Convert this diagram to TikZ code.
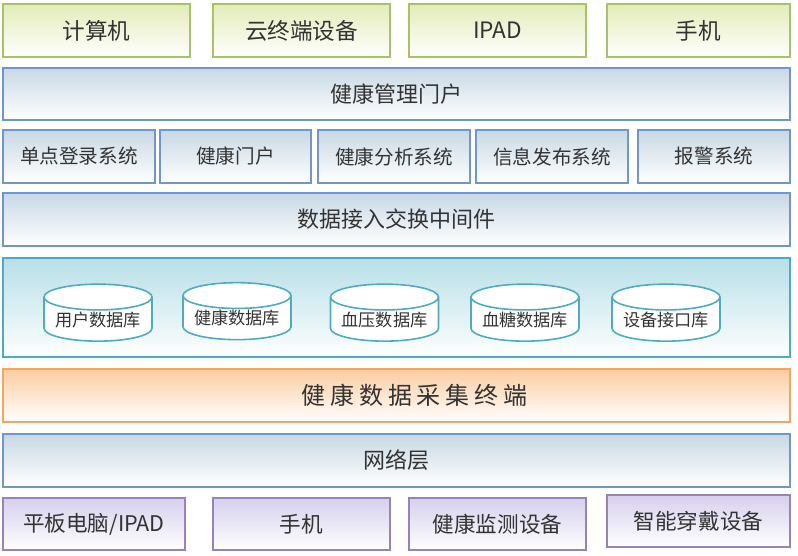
\documentclass[tikz,border=0pt]{standalone}
\usepackage{fontspec}
\usepackage{tikz}
\usetikzlibrary{shapes.geometric}
\newfontfamily\cjk{Noto Sans CJK SC}
\newfontfamily\cjkwide[LetterSpace=20]{Noto Sans CJK SC}
\definecolor{TxtGray}{HTML}{333333}
\definecolor{DevLine}{HTML}{A6C466}
\definecolor{DevTop}{HTML}{E2ECB8}
\definecolor{SysLine}{HTML}{6E96D2}
\definecolor{SysTop}{HTML}{C8D8E4}
\definecolor{DbLine}{HTML}{4BACC6}
\definecolor{DbTop}{HTML}{B7DFE7}
\definecolor{AcqLine}{HTML}{F7A55A}
\definecolor{AcqTop}{HTML}{FBCDA0}
\definecolor{TermLine}{HTML}{9882BE}
\definecolor{TermTop}{HTML}{D6D0EC}
\tikzset{
  box/.style={rectangle,line width=0.8pt,inner sep=0pt,text=TxtGray},
  dev/.style={box,draw=DevLine,top color=DevTop,bottom color=white,
              minimum height=26.5pt,font=\cjk\fontsize{11.3}{13}\selectfont},
  sys/.style={box,draw=SysLine,top color=SysTop,bottom color=white,
              minimum height=26.5pt,font=\cjk\fontsize{11}{13}\selectfont},
  sub/.style={sys,font=\cjk\fontsize{9.8}{12}\selectfont},
  store/.style={box,draw=DbLine,top color=DbTop,bottom color=white,minimum height=49.5pt},
  db/.style={cylinder,shape border rotate=90,aspect=0.3,draw=DbLine,fill=white,
             line width=0.8pt,minimum width=54pt,minimum height=28.5pt,inner sep=0pt,
             text=TxtGray,font=\cjk\fontsize{8.6}{10}\selectfont},
  acq/.style={box,draw=AcqLine,top color=AcqTop,bottom color=white,
              minimum height=26.5pt,font=\cjkwide\fontsize{12}{14}\selectfont},
  term/.style={box,draw=TermLine,top color=TermTop,bottom color=white,
               minimum height=26pt,font=\cjk\fontsize{10.8}{13}\selectfont},
}
\begin{document}
\begin{tikzpicture}[x=0.5pt,y=-0.5pt]
  \useasboundingbox (0,0) rectangle (798,556);

  % access devices
  \node[dev,minimum width=93.5pt] (pc)    at (96.5,30.5)  {计算机};
  \node[dev,minimum width=88.5pt] (cloud) at (301.5,30.5) {云终端设备};
  \node[dev,minimum width=88.5pt] (ipad)  at (497.5,30.5) {IPAD};
  \node[dev,minimum width=91.5pt] (phone) at (698.5,30.5) {手机};

  % portal and subsystems
  \node[sys,minimum width=393.5pt,minimum height=26pt] (portal) at (396.5,94) {健康管理门户};
  \node[sub,minimum width=76pt]   (sso)   at (79,156.5)  {单点登录系统};
  \node[sub,minimum width=75.5pt] (hport) at (235.5,156.5) {健康门户};
  \node[sub,minimum width=76pt]   (ana)   at (394,156.5) {健康分析系统};
  \node[sub,minimum width=76pt]   (pub)   at (552,156.5) {信息发布系统};
  \node[sub,minimum width=76pt]   (alarm) at (714,156.5) {报警系统};
  \node[sys,minimum width=393.5pt] (mid) at (396.5,219.5) {数据接入交换中间件};

  % databases
  \node[store,minimum width=393.5pt] (store) at (396.5,307.5) {};
  \node[db] (userdb)  at (98,319.5)  {用户数据库};
  \node[db] (healthdb) at (237,318) {健康数据库};
  \node[db] (bpdb)    at (384.5,319.5) {血压数据库};
  \node[db] (bgdb)    at (525,319.5) {血糖数据库};
  \node[db] (ifdb)    at (666,319.5) {设备接口库};

  % acquisition, network, terminals
  \node[acq,minimum width=393.5pt] (acq) at (396.5,395.5) {\hspace*{18pt}健康数据采集终端};
  \node[sys,minimum width=393.5pt] (net) at (396.5,460.5) {网络层};
  \node[term,minimum width=91pt]   (tab)   at (94,524)    {平板电脑/IPAD};
  \node[term,minimum width=88.5pt] (mob)   at (301.5,524) {手机};
  \node[term,minimum width=88.5pt] (mon)   at (497.5,524) {健康监测设备};
  \node[term,minimum width=91.5pt] (wear)  at (698.5,521) {智能穿戴设备};
\end{tikzpicture}
\end{document}
